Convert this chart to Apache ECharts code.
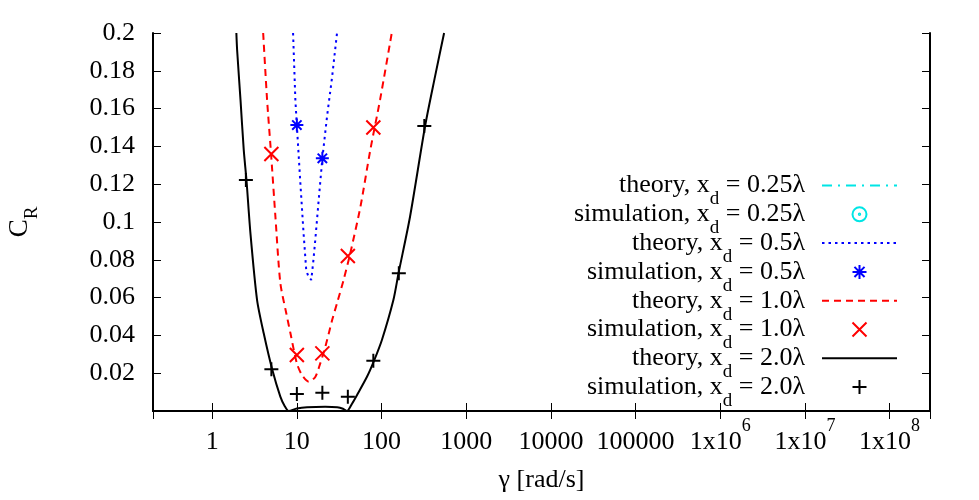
<!DOCTYPE html>
<html>
<head>
<meta charset="utf-8">
<script src="https://cdn.jsdelivr.net/npm/echarts@6/dist/echarts.min.js"></script>
<style>html,body{margin:0;padding:0;background:#fff}#c{width:979px;height:500px}</style>
</head>
<body>
<div id="c"></div>
<script>
// ---- data ----
const xTicks = [1, 10, 100, 1000, 10000, 100000, 1e6, 1e7, 1e8];
const yTicks = [0.02, 0.04, 0.06, 0.08, 0.1, 0.12, 0.14, 0.16, 0.18, 0.2];

// theory / simulation x_d = 0.25 lambda : off-scale in the plotted range
const gTh025 = [];
const cTh025 = [];
const gSim025 = [];
const cSim025 = [];

// x_d = 0.5 lambda
const gTh05 = [9.02, 9.6, 10, 11.0, 12.0, 12.9, 13.6, 14.8, 15.7, 16.5, 18.1, 20, 22.7, 26.1, 29.8];
const cTh05 = [0.2, 0.1646, 0.151, 0.1205, 0.094, 0.0746, 0.0715, 0.0693, 0.080, 0.0905, 0.1116, 0.1337, 0.1557, 0.1769, 0.2];
const gSim05 = [10, 20];
const cSim05 = [0.1513, 0.1337];

// x_d = 1.0 lambda
const gTh10 = [4.0, 4.45, 4.96, 5.58, 6.38, 7.5, 8.4, 10.0, 11.5, 13.8, 16.5, 18.9, 21.7, 26.1, 29.8, 35.6, 42.7, 56.3, 73.6, 96, 132];
const cTh10 = [0.2, 0.1646, 0.136, 0.1028, 0.0677, 0.0517, 0.0411, 0.0252, 0.019, 0.0155, 0.018, 0.0252, 0.034, 0.0481, 0.057, 0.0693, 0.0834, 0.108, 0.138, 0.1646, 0.2];
const gSim10 = [5, 10, 20, 40, 80];
const cSim10 = [0.136, 0.0296, 0.0305, 0.082, 0.150];

// x_d = 2.0 lambda
const gTh20 = [1.93, 1.97, 2.16, 2.36, 2.54, 2.83, 3.39, 4.06, 5.1, 6.38, 7.2, 8.0, 10, 13.2, 21.6, 30, 35, 39, 45, 51.4, 67.3, 80.5, 101, 138, 158.7, 217, 327, 428, 548];
const cTh20 = [0.2, 0.191, 0.1646, 0.138, 0.1222, 0.094, 0.0587, 0.0411, 0.0222, 0.0076, 0.0025, 0.0, 0.0013, 0.002, 0.0023, 0.002, 0.0012, 0.0, 0.004, 0.0085, 0.0181, 0.026, 0.0376, 0.0587, 0.0729, 0.1028, 0.1508, 0.1769, 0.2];
const gSim20 = [2.5, 5, 10, 20, 40, 80, 160, 320];
const cSim20 = [0.1222, 0.0221, 0.0090, 0.0097, 0.0076, 0.0266, 0.0729, 0.1508];

// ---- chart ----
const serif = "'Liberation Serif', 'DejaVu Serif', serif";
const FS = 26;
const zip = (a, b) => a.map((v, i) => [v, b[i]]);

const SYM_PLUS = 'path://M-1,0H1M0,-1V1';
const SYM_CROSS = 'path://M-1,-1L1,1M-1,1L1,-1';
const SYM_STAR = 'path://M-1,0H1M0,-1V1M-0.72,-0.72L0.72,0.72M-0.72,0.72L0.72,-0.72';
const SYM_CIRC = 'path://M-1,0A1,1 0 1,0 1,0A1,1 0 1,0 -1,0ZM-0.1,0A0.1,0.1 0 1,0 0.1,0A0.1,0.1 0 1,0 -0.1,0Z';

function lineSeries(name, g, c, color, type, smooth) {
  return {
    name, type: 'line', data: zip(g, c), symbol: 'none', showSymbol: false, smooth: smooth,
    clip: true,
    lineStyle: { color, width: 2, type },
    itemStyle: { color, opacity: 0 }
  };
}
function scatterSeries(name, g, c, color, sym, size, fill) {
  return {
    name, type: 'scatter', data: zip(g, c), symbol: sym, symbolSize: size,
    itemStyle: { color: fill, borderColor: color, borderWidth: 2, opacity: 1 }
  };
}

const richLegend = {
  sub: { fontSize: 19, fontFamily: serif, color: '#000', lineHeight: 19, padding: [28, 0, 0, 0] }
};
const richAxis = {
  n: { fontSize: FS, fontFamily: serif, color: '#000', lineHeight: 28, padding: [10, 0, 0, 0], verticalAlign: 'bottom' },
  sup: { fontSize: 18, fontFamily: serif, color: '#000', lineHeight: 18, padding: [0, 0, 20, 0], verticalAlign: 'bottom' },
  sub: { fontSize: 19, fontFamily: serif, color: '#000', lineHeight: 19, padding: [26, 0, 0, 0] }
};

const series = [
  lineSeries('theory, x{sub|d} = 0.25λ', gTh025, cTh025, '#00e5e5', [10, 6, 2, 6], false),
  scatterSeries('simulation, x{sub|d} = 0.25λ', gSim025, cSim025, '#00e5e5', SYM_CIRC, 14, 'transparent'),
  lineSeries('theory, x{sub|d} = 0.5λ', gTh05, cTh05, '#0000ff', [2.5, 4], false),
  scatterSeries('simulation, x{sub|d} = 0.5λ', gSim05, cSim05, '#0000ff', SYM_STAR, 13, '#0000ff'),
  lineSeries('theory, x{sub|d} = 1.0λ', gTh10, cTh10, '#ff0000', [7, 5], 0.25),
  scatterSeries('simulation, x{sub|d} = 1.0λ', gSim10, cSim10, '#ff0000', SYM_CROSS, 14, '#ff0000'),
  lineSeries('theory, x{sub|d} = 2.0λ', gTh20, cTh20, '#000000', 'solid', 0.25),
  scatterSeries('simulation, x{sub|d} = 2.0λ', gSim20, cSim20, '#000000', SYM_PLUS, 14, '#000000')
];

function xLabel(v) {
  const e = Math.round(Math.log10(v));
  if (xTicks.indexOf(Math.pow(10, e)) < 0 || Math.abs(v - Math.pow(10, e)) > 1e-6 * v) return '';
  if (e < 6) return '{n|' + String(Math.pow(10, e)) + '}';
  return '{n|1x10}{sup|' + e + '}';
}
function yLabel(v) {
  const r = Math.round(v * 100) / 100;
  return yTicks.some(t => Math.abs(t - r) < 1e-9) ? String(r) : '';
}

const tickStyle = { show: true, inside: true, length: 8, lineStyle: { color: '#000', width: 1 } };
const lineStyle = { show: true, lineStyle: { color: '#000', width: 2 } };

const option = {
  animation: false,
  backgroundColor: '#fff',
  textStyle: { fontFamily: serif },
  grid: { left: 153, right: 49, top: 33, bottom: 89, containLabel: false, outerBoundsMode: 'none' },
  legend: {
    orient: 'vertical', right: 81, top: 162, align: 'right', padding: 0,
    itemWidth: 75, itemHeight: 14, itemGap: -18.2,
    selectedMode: false,
    data: series.map(s => s.name),
    textStyle: { fontFamily: serif, fontSize: FS, color: '#000', lineHeight: 28, padding: [0, 12, 0, 0], rich: richLegend }
  },
  xAxis: [{
    type: 'log', logBase: 10, min: 0.2, max: 3e8, splitNumber: 10,
    position: 'bottom',
    name: 'γ [rad/s]', nameLocation: 'middle', nameGap: 56,
    nameTextStyle: { fontFamily: serif, fontSize: FS, color: '#000' },
    axisLine: lineStyle, axisTick: tickStyle, splitLine: { show: false }, minorTick: { show: false },
    axisLabel: { show: true, margin: 16, fontFamily: serif, fontSize: FS, color: '#000', formatter: xLabel, showMinLabel: false, showMaxLabel: false, rich: richAxis }
  }, {
    type: 'log', logBase: 10, min: 0.2, max: 3e8, splitNumber: 10, position: 'top',
    axisLine: lineStyle, axisTick: tickStyle, splitLine: { show: false }, axisLabel: { show: false }
  }],
  yAxis: [{
    type: 'value', min: 0, max: 0.2, interval: 0.02, position: 'left',
    name: 'C{sub|R}', nameLocation: 'middle', nameGap: 120, nameRotate: 90,
    nameTextStyle: { fontFamily: serif, fontSize: 27, color: '#000', rich: richAxis },
    axisLine: lineStyle, axisTick: tickStyle, splitLine: { show: false },
    axisLabel: { margin: 18, fontFamily: serif, fontSize: FS, color: '#000', formatter: yLabel }
  }, {
    type: 'value', min: 0, max: 0.2, interval: 0.02, position: 'right',
    axisLine: lineStyle, axisTick: tickStyle, splitLine: { show: false }, axisLabel: { show: false }
  }],
  series
};

const chart = echarts.init(document.getElementById('c'), null, { renderer: 'canvas' });
chart.setOption(option);
</script>
</body>
</html>
